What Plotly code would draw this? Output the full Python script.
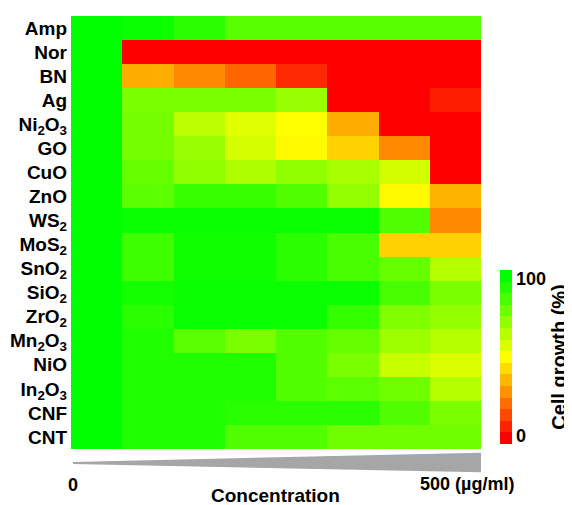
import plotly.graph_objects as go

# ---------------- data ----------------
materials = ["Amp", "Nor", "BN", "Ag", "Ni2O3", "GO", "CuO", "ZnO", "WS2", "MoS2",
             "SnO2", "SiO2", "ZrO2", "Mn2O3", "NiO", "In2O3", "CNF", "CNT"]
material_labels = ["Amp", "Nor", "BN", "Ag", "Ni<sub>2</sub>O<sub>3</sub>", "GO", "CuO", "ZnO",
                   "WS<sub>2</sub>", "MoS<sub>2</sub>", "SnO<sub>2</sub>", "SiO<sub>2</sub>",
                   "ZrO<sub>2</sub>", "Mn<sub>2</sub>O<sub>3</sub>", "NiO", "In<sub>2</sub>O<sub>3</sub>",
                   "CNF", "CNT"]
conc_steps = [0, 1, 2, 3, 4, 5, 6, 7]   # increasing concentration, 0 -> 500 ug/ml

growth_amp   = [100, 98, 92, 83, 83, 83, 83, 83]
growth_nor   = [100, 0, 0, 0, 0, 0, 0, 0]
growth_bn    = [100, 34, 27, 20, 8, 0, 0, 0]
growth_ag    = [100, 76, 76, 76, 70, 0, 0, 6]
growth_ni2o3 = [100, 77, 63, 56, 50, 34, 0, 0]
growth_go    = [100, 77, 70, 58, 49, 41, 27, 0]
growth_cuo   = [100, 80, 72, 66, 72, 67, 59, 0]
growth_zno   = [100, 82, 89, 89, 84, 71, 49, 35]
growth_ws2   = [100, 98, 98, 98, 98, 98, 84, 27]
growth_mos2  = [100, 88, 97, 97, 92, 86, 41, 41]
growth_sno2  = [100, 88, 97, 97, 92, 86, 80, 65]
growth_sio2  = [100, 96, 98, 98, 98, 98, 86, 76]
growth_zro2  = [100, 92, 98, 98, 98, 90, 75, 71]
growth_mn2o3 = [100, 94, 82, 76, 84, 80, 69, 65]
growth_nio   = [100, 94, 94, 94, 84, 76, 61, 57]
growth_in2o3 = [100, 94, 94, 94, 84, 82, 78, 65]
growth_cnf   = [100, 94, 94, 92, 92, 92, 84, 76]
growth_cnt   = [100, 94, 94, 84, 84, 78, 78, 78]

growth = [growth_amp, growth_nor, growth_bn, growth_ag, growth_ni2o3, growth_go, growth_cuo,
          growth_zno, growth_ws2, growth_mos2, growth_sno2, growth_sio2, growth_zro2,
          growth_mn2o3, growth_nio, growth_in2o3, growth_cnf, growth_cnt]

cbar_tickvals = [5, 95]
cbar_ticktext = ["0", "100"]

# ---------------- styling ----------------
FONT = "Liberation Sans, Arial, sans-serif"
cont_scale = [[0.0, "rgb(255,0,0)"], [0.5, "rgb(255,255,0)"], [1.0, "rgb(0,255,0)"]]


def ryg(t):
    if t <= 0.5:
        return "rgb(255,%d,0)" % round(255 * t / 0.5)
    return "rgb(%d,255,0)" % round(255 * (1 - t) / 0.5)


n_bands = 15
disc_scale = []
for i in range(n_bands):
    c = ryg(i / (n_bands - 1))
    disc_scale.append([i / n_bands, c])
    disc_scale.append([(i + 1) / n_bands, c])

# page offset of the plot div (default body margin)
OX, OY = 8, 8
W, H = 572 - OX, 505 - OY
# plot area in page pixels (from the reference)
PX0, PX1, PY0, PY1 = 71, 481, 16, 449
L, T = PX0 - OX, PY0 - OY
R, B = W - (PX1 - OX), H - (PY1 - OY)
pw, ph = PX1 - PX0, PY1 - PY0


def px_x(px):
    return (px - PX0) / pw


def px_y(py):
    return (PY1 - py) / ph


fig = go.Figure()
fig.add_trace(go.Heatmap(
    z=growth, x=conc_steps, y=materials,
    colorscale=cont_scale, zmin=0, zmax=100, showscale=False,
    hovertemplate="%{y}: %{z}%<extra></extra>",
))

# colour bar (stepped) drawn from a hidden trace
fig.add_trace(go.Scatter(
    x=[None], y=[None], mode="markers", showlegend=False, hoverinfo="skip",
    marker=dict(
        color=[0, 100], cmin=0, cmax=100, colorscale=disc_scale, showscale=True,
        colorbar=dict(
            x=px_x(500), xanchor="left", xpad=0,
            y=px_y(444), yanchor="bottom", ypad=0,
            len=174 / ph, lenmode="fraction",
            thickness=12, outlinewidth=0,
            tickmode="array", tickvals=cbar_tickvals, ticktext=cbar_ticktext,
            ticks="", ticklen=0,
            tickfont=dict(family=FONT, size=18, color="black", weight="bold"),
            title=dict(text="Cell growth (%)", side="right",
                       font=dict(family=FONT, size=20, color="black", weight="bold")),
        ),
    ),
))

fig.update_xaxes(showticklabels=False, showgrid=False, zeroline=False, ticks="",
                 showline=False, range=[-0.5, 7.5], automargin=False)
fig.update_yaxes(tickmode="array", tickvals=materials, ticktext=material_labels,
                 autorange="reversed", showgrid=False, zeroline=False, ticks="",
                 automargin=False, ticklabelstandoff=3,
                 tickfont=dict(family=FONT, size=19, color="black", weight="bold"))

# concentration wedge
fig.add_shape(type="path", xref="paper", yref="paper",
              path="M %f,%f L %f,%f L %f,%f L %f,%f Z" % (
                  px_x(73), px_y(462), px_x(481), px_y(452.7),
                  px_x(481), px_y(472.3), px_x(73), px_y(464)),
              fillcolor="#a6a6a6", line=dict(width=0))

ann_font = dict(family=FONT, size=18, color="black", weight="bold")
fig.add_annotation(text="0", x=px_x(72.5), y=px_y(485), xref="paper", yref="paper",
                   showarrow=False, xanchor="center", yanchor="middle", font=ann_font)
fig.add_annotation(text="500 (µg/ml)", x=px_x(467), y=px_y(484), xref="paper", yref="paper",
                   showarrow=False, xanchor="center", yanchor="middle", font=ann_font)
fig.add_annotation(text="Concentration", x=px_x(275), y=px_y(495), xref="paper", yref="paper",
                   showarrow=False, xanchor="center", yanchor="middle",
                   font=dict(family=FONT, size=19, color="black", weight="bold"))

fig.update_layout(
    width=W, height=H, margin=dict(l=L, r=R, t=T, b=B, autoexpand=False),
    paper_bgcolor="white", plot_bgcolor="white", showlegend=False,
)

fig.write_html("out.html")
